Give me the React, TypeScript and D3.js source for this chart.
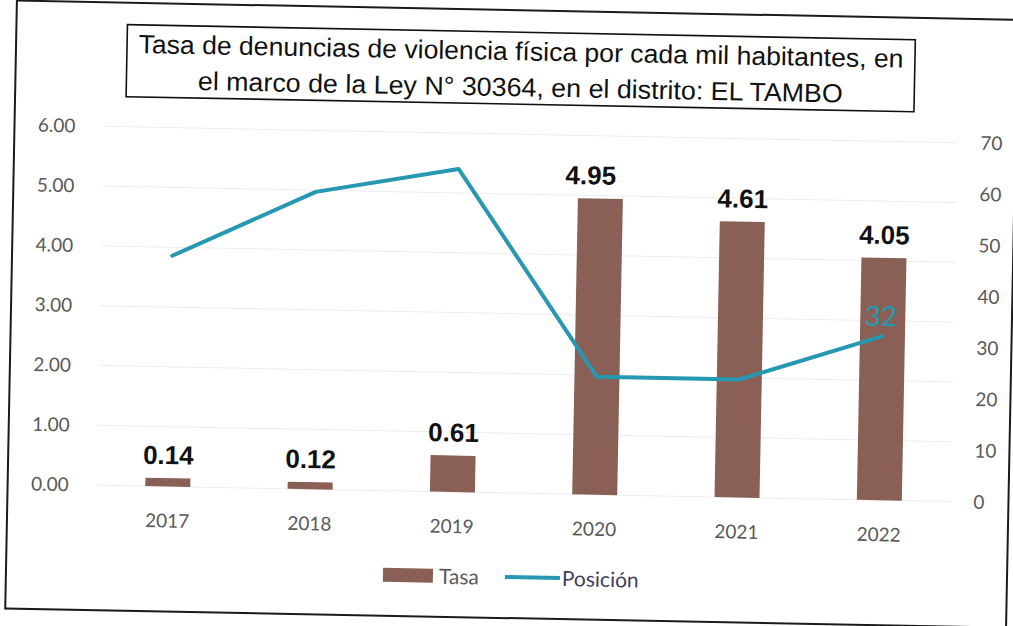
import React from "react";
import * as d3 from "d3";

const years = ["2017", "2018", "2019", "2020", "2021", "2022"];
const tasa = [0.14, 0.12, 0.61, 4.95, 4.61, 4.05];
const posicion = [45, 58, 63, 23, 23, 32];
const leftTicks = [0, 1, 2, 3, 4, 5, 6];
const rightTicks = [0, 10, 20, 30, 40, 50, 60, 70];
const titleLines = [
  "Tasa de denuncias de violencia física por cada mil habitantes, en",
  "el marco de la Ley N° 30364, en el distrito: EL TAMBO",
];
const legendLabels = ["Tasa", "Posición"];
const labelledPosition = ["2022"];

const W = 1013;
const H = 626;
const BAR = "#8a5f55";
const LINE = "#2698b2";
const AXIS_TXT = "#595959";
const CAL = "Lato, 'Open Sans', 'DejaVu Sans', sans-serif";
const ARIAL = "'Liberation Sans', Arial, sans-serif";
const NARROW = "'Liberation Sans Narrow', 'Arial Narrow', 'Liberation Sans', Arial, sans-serif";

export default function App() {
  const x = d3.scaleBand<string>().domain(years).range([100, 954]).padding(0);
  const yL = d3.scaleLinear().domain([0, 6]).range([493, 134]);
  const yR = d3.scaleLinear().domain([0, 70]).range([493, 134]);
  const cx = (yr: string) => (x(yr) as number) + x.bandwidth() / 2;
  const barW = 45;
  const nudge: Record<string, number> = { "2020": -10 };

  const pts: [number, number][] = years.map((yr, i) => [cx(yr), yR(posicion[i])]);
  const line = d3.line<[number, number]>().x((d) => d[0]).y((d) => d[1]);

  return (
    <svg
      width={W}
      height={H}
      viewBox={`0 0 ${W} ${H}`}
      style={{ position: "absolute", left: 0, top: 0, background: "#fff" }}
    >
      <rect x={0} y={0} width={W} height={H} fill="#fff" />
      <g transform="rotate(1.1 506 313)">
        {/* page frame */}
        <rect x={11} y={10} width={1001} height={608} fill="none" stroke="#1a1a1a" strokeWidth={2} />

        {/* title box */}
        <rect x={122} y={32} width={788} height={72} fill="#fff" stroke="#111" strokeWidth={1.6} />
        {titleLines.map((t, i) => (
          <text
            key={i}
            x={516}
            y={60 + i * 36}
            textAnchor="middle"
            fontFamily={NARROW}
            fontSize={26}
            fill="#111"
            textLength={i === 0 ? 765 : 645}
            lengthAdjust="spacingAndGlyphs"
          >
            {t}
          </text>
        ))}

        {/* gridlines */}
        {leftTicks.map((t) => (
          <line key={t} x1={100} x2={954} y1={yL(t)} y2={yL(t)} stroke="#ededed" strokeWidth={1} />
        ))}

        {/* left axis labels */}
        {leftTicks.map((t) => (
          <text
            key={"l" + t}
            x={72}
            y={yL(t)}
            dy="0.35em"
            textAnchor="end"
            fontFamily={CAL}
            fontSize={19}
            fill={AXIS_TXT}
          >
            {d3.format(".2f")(t)}
          </text>
        ))}

        {/* right axis labels */}
        {rightTicks.map((t) => (
          <text
            key={"r" + t}
            x={977}
            y={yR(t)}
            dy="0.35em"
            textAnchor="start"
            fontFamily={CAL}
            fontSize={19}
            fill={AXIS_TXT}
          >
            {t}
          </text>
        ))}

        {/* bars */}
        {years.map((yr, i) => (
          <rect
            key={"b" + yr}
            x={cx(yr) - barW / 2}
            y={yL(tasa[i])}
            width={barW}
            height={yL(0) - yL(tasa[i])}
            fill={BAR}
          />
        ))}

        {/* bar labels */}
        {years.map((yr, i) => (
          <text
            key={"bl" + yr}
            x={cx(yr) + (nudge[yr] || 0)}
            y={yL(tasa[i]) - 14}
            textAnchor="middle"
            fontFamily={ARIAL}
            fontWeight="bold"
            fontSize={26}
            fill="#111"
          >
            {d3.format(".2f")(tasa[i])}
          </text>
        ))}

        {/* year labels */}
        {years.map((yr) => (
          <text
            key={"y" + yr}
            x={cx(yr)}
            y={534}
            textAnchor="middle"
            fontFamily={CAL}
            fontSize={19}
            fill={AXIS_TXT}
          >
            {yr}
          </text>
        ))}

        {/* position line */}
        <path d={line(pts) || ""} fill="none" stroke={LINE} strokeWidth={4} strokeLinejoin="round" strokeLinecap="round" />
        {years.map((yr, i) =>
          labelledPosition.includes(yr) ? (
            <text
              key={"pl" + yr}
              x={cx(yr) - 2}
              y={yR(posicion[i]) - 10}
              textAnchor="middle"
              fontFamily={CAL}
              fontSize={28}
              fill={LINE}
            >
              {posicion[i]}
            </text>
          ) : null
        )}

        {/* legend */}
        <rect x={388} y={570} width={50} height={14} fill={BAR} />
        <text x={444} y={585} fontFamily={CAL} fontSize={21} fill={AXIS_TXT}>
          {legendLabels[0]}
        </text>
        <line x1={510} x2={565} y1={577} y2={577} stroke={LINE} strokeWidth={4} />
        <text x={567} y={585} fontFamily={CAL} fontSize={21} fill="#3f3f5a">
          {legendLabels[1]}
        </text>
      </g>
    </svg>
  );
}
